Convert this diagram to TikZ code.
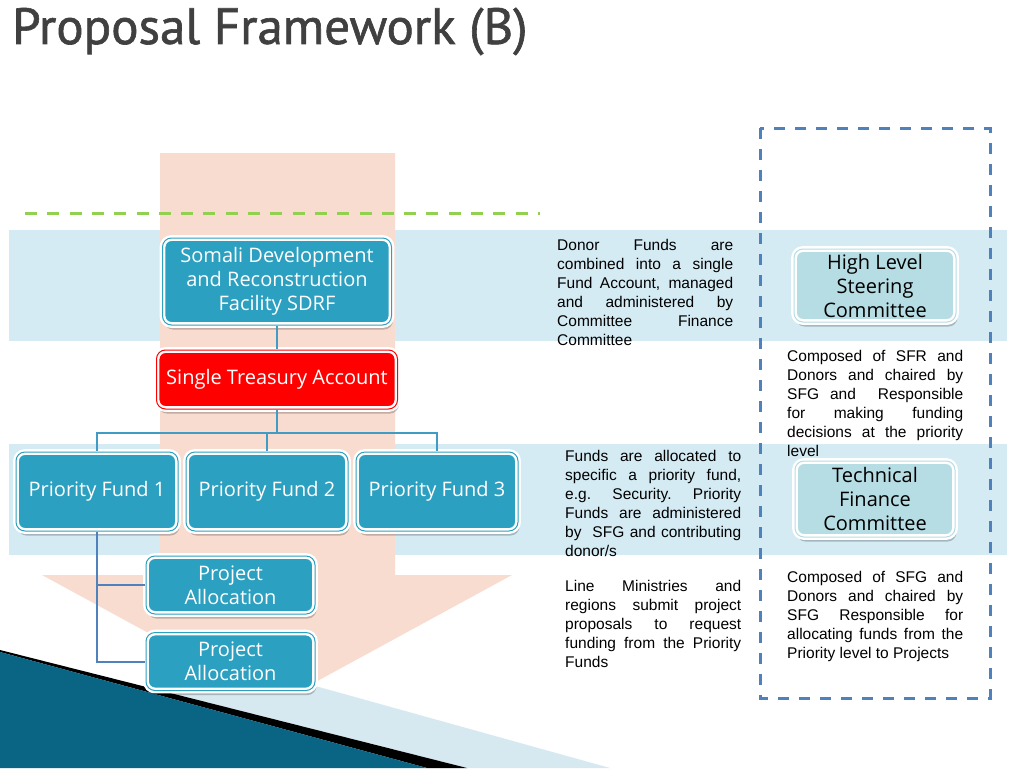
\documentclass[tikz,border=0pt]{standalone}
\usepackage{fontspec}
\setmainfont{Liberation Sans}
\newfontfamily\boxfont{Open Sans}
\newfontfamily\headfont[FakeBold=1.2]{PT Sans}
\usetikzlibrary{positioning, calc}
\definecolor{tealc}{RGB}{44,160,192}
\definecolor{alertc}{RGB}{255,0,0}
\definecolor{palec}{RGB}{182,221,227}
\definecolor{bandc}{RGB}{212,235,244}
\definecolor{peachc}{RGB}{249,220,208}
\definecolor{greenc}{RGB}{146,208,80}
\definecolor{framec}{RGB}{79,129,189}
\definecolor{linkc}{RGB}{64,156,196}
\definecolor{titlec}{RGB}{64,64,64}
\definecolor{deepc}{RGB}{10,100,132}
\definecolor{glowc}{RGB}{100,196,228}
\definecolor{stripc}{RGB}{214,232,240}
\tikzset{
  box/.style={
    rectangle, rounded corners=9pt, fill=tealc, draw=white, double=tealc,
    line width=2.4pt, double distance=1pt, inner sep=2pt, align=center,
    text=white, font=\boxfont\fontsize{20}{24}\selectfont,
    preaction={fill=black, opacity=0.22, transform canvas={xshift=1.5pt, yshift=-4.5pt}}
  },
  alert/.style={box, fill=alertc, double=alertc},
  board/.style={box, fill=palec, double=palec, text=black},
  note/.style={font=\fontsize{15.5}{19}\selectfont, text width=176pt,
    align=justify, inner sep=0pt, anchor=north west},
  link/.style={draw=linkc, line width=2pt},
  tree/.style={draw=framec, line width=2pt},
}
\begin{document}
\begin{tikzpicture}[x=1pt, y=-1pt]
  \useasboundingbox (0,0) rectangle (1024,768);
  \fill[white] (0,0) rectangle (1024,768);

  % horizontal bands
  \fill[bandc] (9,230) rectangle (1007,341);
  \fill[bandc] (9,444) rectangle (1007,555);

  % the big downward arrow
  \fill[peachc] (160,153) -- (395,153) -- (395,575) -- (512,575)
    -- (277,703) -- (42,575) -- (160,575) -- cycle;

  % dashed guides
  \draw[greenc, line width=3pt, dash pattern=on 12pt off 10.3pt] (25,213) -- (540,213);
  \draw[framec, line width=3pt, dash pattern=on 11pt off 10pt] (760,128) rectangle (990,698);

  % bottom corner decoration
  \fill[stripc] (150,640) -- (610,768) -- (467,768) -- (150,688) -- cycle;
  \fill[black] (0,650) -- (467,768) -- (427,768) -- (0,652) -- cycle;
  \shade[left color=deepc, middle color=glowc, right color=deepc]
    (0,652) -- (427,768) -- (0,768) -- cycle;

  % title
  \node[anchor=base west, inner sep=0pt, text=titlec,
        font=\headfont\fontsize{51}{60}\selectfont] (title) at (12,44)
        {Proposal Framework (B)};

  % structure
  \node[box, minimum width=229pt, minimum height=87pt] (sdrf) at (277,281.5)
    {Somali Development\\and Reconstruction\\Facility SDRF};
  \node[alert, minimum width=241pt, minimum height=59pt] (sta) at (277,379.5)
    {Single Treasury Account};
  \node[box, minimum width=162pt, minimum height=79pt] (pf1) at (97,491.5) {Priority Fund 1};
  \node[box, minimum width=162pt, minimum height=79pt] (pf2) at (267,491.5) {Priority Fund 2};
  \node[box, minimum width=162pt, minimum height=79pt] (pf3) at (437,491.5) {Priority Fund 3};
  \node[box, minimum width=169pt, minimum height=58pt] (pa1) at (230.5,585) {Project\\Allocation};
  \node[box, minimum width=169pt, minimum height=58pt] (pa2) at (230.5,661.5) {Project\\Allocation};

  \node[board, minimum width=162pt, minimum height=73pt] (hlsc) at (875,285.5)
    {High Level\\Steering\\Committee};
  \node[board, minimum width=160pt, minimum height=76pt] (tfc) at (875,499)
    {Technical\\Finance\\Committee};

  % connectors
  \coordinate (bus) at ($(sta.south)+(0,23)$);
  \draw[link] (sdrf.south) -- (sta.north);
  \draw[link] (sta.south) -- (bus);
  \draw[link] (pf1.north) |- (bus) -| (pf3.north);
  \draw[link] (pf2.north) -- (pf2.north |- bus);
  \draw[tree] (pf1.south) |- (pa1.west);
  \draw[tree] (pf1.south) |- (pa2.west);

  % explanations
  \node[note] (n1) at (557,239) {Donor Funds are\linebreak combined into a single\linebreak
    Fund Account, managed\linebreak and administered by\linebreak Committee Finance\linebreak Committee};
  \node[note] (n2) at (787,350) {Composed of SFR and\linebreak Donors and chaired by\linebreak
    SFG and\ \ Responsible\linebreak for making funding\linebreak decisions at the priority\linebreak level};
  \node[note] (n3) at (565,450) {Funds are allocated to\linebreak specific a priority fund,\linebreak
    e.g. Security. Priority\linebreak Funds are administered\linebreak by\ \ SFG and contributing\linebreak donor/s};
  \node[note] (n4) at (565,580) {Line Ministries and\linebreak regions submit project\linebreak
    proposals to request\linebreak funding from the Priority\linebreak Funds};
  \node[note] (n5) at (787,571) {Composed of SFG and\linebreak Donors and chaired by\linebreak
    SFG Responsible for\linebreak allocating funds from the\linebreak Priority level to Projects};
\end{tikzpicture}
\end{document}
